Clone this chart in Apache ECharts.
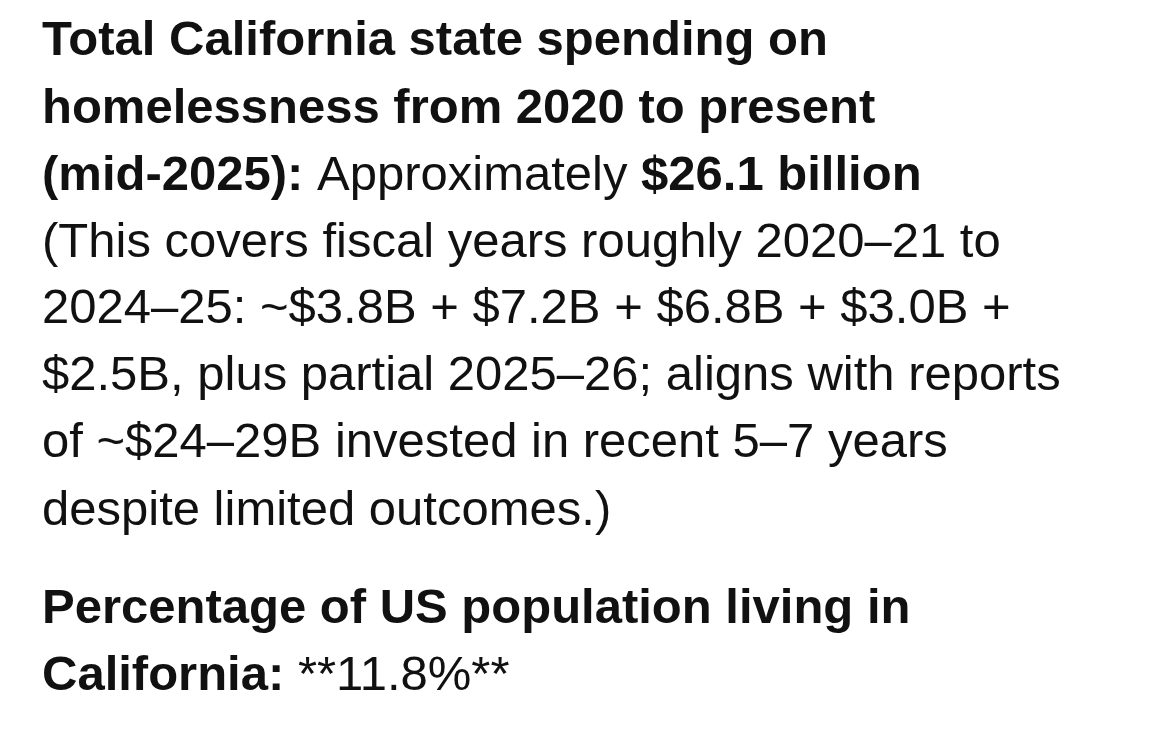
<!DOCTYPE html>
<html><head><meta charset="utf-8">
<script src="https://cdn.jsdelivr.net/npm/echarts@6/dist/echarts.min.js"></script>
<style>html,body{margin:0;padding:0;background:#fff}#c{width:1170px;height:736px}</style>
</head><body><div id="c"></div>
<script>
const fiscalYears = ['2020–21','2021–22','2022–23','2023–24','2024–25'];
const spendingB = [3.8, 7.2, 6.8, 3.0, 2.5];
const totalB = 26.1;
const caSharePct = 11.8;
const lines = [
  [['Total California state spending on', 1]],
  [['homelessness from 2020 to present', 1]],
  [['(mid-2025):', 1], [' Approximately ', 0], ['$' + totalB.toFixed(1) + ' billion', 1]],
  [['(This covers fiscal years roughly ' + fiscalYears[0] + ' to', 0]],
  [['2024–25: ~' + spendingB.slice(0,4).map(v => '$' + v.toFixed(1) + 'B').join(' + ') + ' +', 0]],
  [['$' + spendingB[4].toFixed(1) + 'B, plus partial 2025–26; aligns with reports', 0]],
  [['of ~$24–29B invested in recent 5–7 years', 0]],
  [['despite limited outcomes.)', 0]],
  [['Percentage of US population living in', 1]],
  [['California:', 1], [' **' + caSharePct.toFixed(1) + '%**', 0]]
];
const tops = [17, 85, 152, 219, 285, 352, 419, 487, 585, 652];
const chart = echarts.init(document.getElementById('c'));
const graphic = lines.map((segs, i) => ({
  type: 'text', left: 42, top: tops[i],
  style: {
    text: segs.map(s => '{' + (s[1] ? 'b' : 'n') + '|' + s[0] + '}').join(''),
    rich: {
      b: {fontFamily: 'Liberation Sans', fontWeight: 'bold', fontSize: 49, fill: '#111', lineHeight: 56},
      n: {fontFamily: 'Liberation Sans', fontSize: 49, fill: '#111', lineHeight: 56}
    }
  }
}));
chart.setOption({backgroundColor: '#fff', graphic});
</script></body></html>
